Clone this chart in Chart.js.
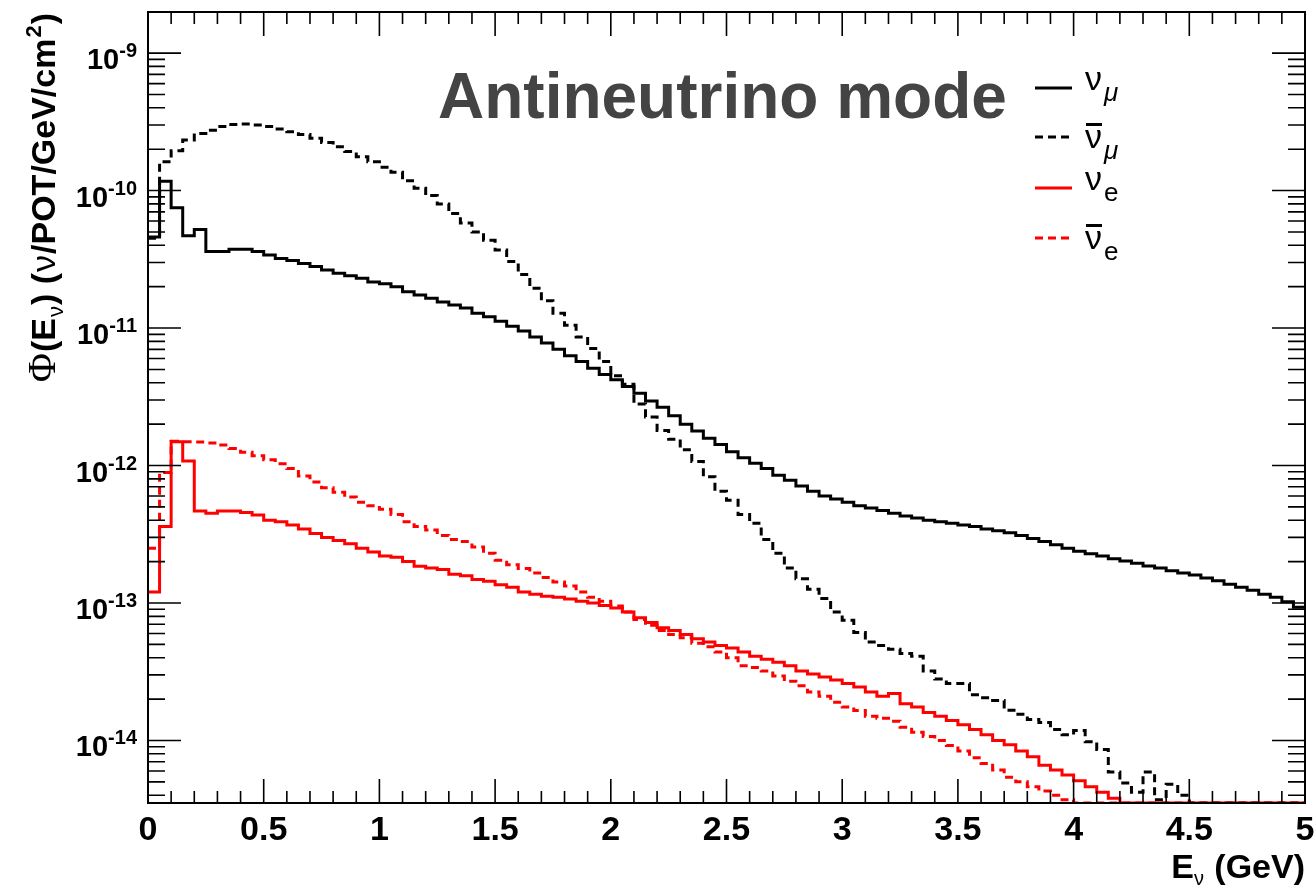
<!DOCTYPE html>
<html>
<head>
<meta charset="utf-8">
<script src="https://cdn.jsdelivr.net/npm/chart.js@4.4.1/dist/chart.umd.min.js"></script>
<style>
  html, body { margin: 0; padding: 0; background: #fff; }
  #wrap { width: 1314px; height: 886px; position: relative; }
</style>
</head>
<body>
<div id="wrap"><canvas id="flux"></canvas></div>
<script>
//.. histogram binning: 100 bins of 0.05 GeV between 0 and 5 GeV
const E_LOW = 0;
const E_HIGH = 5;
const BIN_WIDTH = 0.05;

//.. flux per bin in nu/POT/GeV/cm2 (0 = empty bin)
const numu = [
  4.6e-11, 1.17e-10, 7.5e-11, 4.7e-11, 5.2e-11, 3.6e-11, 3.6e-11, 3.75e-11, 3.75e-11, 3.6e-11,
  3.4e-11, 3.2e-11, 3.1e-11, 2.95e-11, 2.8e-11, 2.64e-11, 2.5e-11, 2.4e-11, 2.3e-11, 2.16e-11,
  2.1e-11, 2.0e-11, 1.84e-11, 1.74e-11, 1.65e-11, 1.55e-11, 1.47e-11, 1.4e-11, 1.28e-11, 1.21e-11,
  1.12e-11, 1.03e-11, 9.5e-12, 8.6e-12, 7.8e-12, 7.0e-12, 6.3e-12, 5.7e-12, 5.1e-12, 4.6e-12,
  4.2e-12, 3.75e-12, 3.35e-12, 2.95e-12, 2.65e-12, 2.3e-12, 2.0e-12, 1.78e-12, 1.58e-12, 1.42e-12,
  1.26e-12, 1.14e-12, 1.04e-12, 9.5e-13, 8.5e-13, 7.8e-13, 7.1e-13, 6.5e-13, 6.0e-13, 5.7e-13,
  5.4e-13, 5.1e-13, 4.9e-13, 4.7e-13, 4.5e-13, 4.3e-13, 4.15e-13, 4.0e-13, 3.9e-13, 3.8e-13,
  3.7e-13, 3.6e-13, 3.45e-13, 3.35e-13, 3.25e-13, 3.1e-13, 2.95e-13, 2.8e-13, 2.65e-13, 2.5e-13,
  2.38e-13, 2.28e-13, 2.2e-13, 2.1e-13, 2.02e-13, 1.95e-13, 1.86e-13, 1.8e-13, 1.72e-13, 1.65e-13,
  1.6e-13, 1.52e-13, 1.45e-13, 1.37e-13, 1.3e-13, 1.24e-13, 1.16e-13, 1.1e-13, 1.02e-13, 9.3e-14
];
const numubar = [
  4.5e-11, 1.62e-10, 1.95e-10, 2.33e-10, 2.6e-10, 2.75e-10, 2.92e-10, 3.02e-10, 3.05e-10, 3.0e-10,
  2.92e-10, 2.8e-10, 2.68e-10, 2.56e-10, 2.4e-10, 2.24e-10, 2.08e-10, 1.92e-10, 1.76e-10, 1.62e-10,
  1.48e-10, 1.36e-10, 1.18e-10, 1.04e-10, 9.2e-11, 8.0e-11, 6.8e-11, 5.8e-11, 5.0e-11, 4.35e-11,
  3.7e-11, 3.05e-11, 2.45e-11, 1.95e-11, 1.58e-11, 1.28e-11, 1.05e-11, 8.6e-12, 7.1e-12, 5.7e-12,
  4.5e-12, 3.9e-12, 2.8e-12, 2.25e-12, 1.8e-12, 1.55e-12, 1.3e-12, 1.07e-12, 8.3e-13, 6.5e-13,
  5.6e-13, 4.4e-13, 3.8e-13, 2.9e-13, 2.3e-13, 1.8e-13, 1.5e-13, 1.26e-13, 1.08e-13, 8.6e-14,
  7.5e-14, 6.1e-14, 5.2e-14, 4.9e-14, 4.6e-14, 4.3e-14, 4.1e-14, 3.2e-14, 2.8e-14, 2.6e-14,
  2.6e-14, 2.15e-14, 2.05e-14, 1.95e-14, 1.66e-14, 1.55e-14, 1.42e-14, 1.35e-14, 1.2e-14, 1.1e-14,
  1.18e-14, 9.8e-15, 8.6e-15, 5.9e-15, 4.9e-15, 4.2e-15, 5.9e-15, 3.7e-15, 4.8e-15, 4.0e-15,
  0, 0, 0, 0, 0, 0, 0, 0, 0, 0
];
const nue = [
  1.2e-13, 3.6e-13, 1.49e-12, 1.08e-12, 4.67e-13, 4.5e-13, 4.67e-13, 4.67e-13, 4.55e-13, 4.37e-13,
  4.0e-13, 3.9e-13, 3.7e-13, 3.45e-13, 3.2e-13, 3.0e-13, 2.85e-13, 2.7e-13, 2.5e-13, 2.35e-13,
  2.2e-13, 2.15e-13, 2.0e-13, 1.85e-13, 1.8e-13, 1.75e-13, 1.62e-13, 1.58e-13, 1.48e-13, 1.44e-13,
  1.36e-13, 1.3e-13, 1.2e-13, 1.16e-13, 1.12e-13, 1.1e-13, 1.07e-13, 1.03e-13, 1.0e-13, 9.6e-14,
  9.2e-14, 8.6e-14, 7.8e-14, 7.2e-14, 6.6e-14, 6.3e-14, 5.9e-14, 5.5e-14, 5.2e-14, 4.9e-14,
  4.7e-14, 4.4e-14, 4.1e-14, 3.9e-14, 3.7e-14, 3.5e-14, 3.2e-14, 3.05e-14, 2.9e-14, 2.75e-14,
  2.6e-14, 2.45e-14, 2.25e-14, 2.1e-14, 2.2e-14, 1.85e-14, 1.75e-14, 1.6e-14, 1.5e-14, 1.4e-14,
  1.3e-14, 1.2e-14, 1.1e-14, 1.0e-14, 9.3e-15, 8.4e-15, 7.6e-15, 6.6e-15, 6.1e-15, 5.6e-15,
  5.1e-15, 4.6e-15, 4.2e-15, 3.8e-15, 0, 0, 0, 0, 0, 0,
  0, 0, 0, 0, 0, 0, 0, 0, 0, 0
];
const nuebar = [
  2.5e-13, 8.9e-13, 1.5e-12, 1.49e-12, 1.48e-12, 1.46e-12, 1.41e-12, 1.33e-12, 1.25e-12, 1.18e-12,
  1.1e-12, 1.03e-12, 9.5e-13, 8.4e-13, 7.6e-13, 6.9e-13, 6.4e-13, 5.9e-13, 5.4e-13, 5.1e-13,
  4.8e-13, 4.4e-13, 3.9e-13, 3.6e-13, 3.4e-13, 3.1e-13, 2.9e-13, 2.8e-13, 2.55e-13, 2.3e-13,
  2.05e-13, 1.9e-13, 1.78e-13, 1.65e-13, 1.53e-13, 1.42e-13, 1.33e-13, 1.2e-13, 1.1e-13, 1.03e-13,
  9.5e-14, 8.6e-14, 7.6e-14, 6.9e-14, 6.3e-14, 5.9e-14, 5.6e-14, 5.1e-14, 4.8e-14, 4.4e-14,
  4.0e-14, 3.5e-14, 3.4e-14, 3.2e-14, 2.95e-14, 2.7e-14, 2.5e-14, 2.25e-14, 2.1e-14, 1.9e-14,
  1.75e-14, 1.65e-14, 1.5e-14, 1.45e-14, 1.38e-14, 1.25e-14, 1.15e-14, 1.07e-14, 1.0e-14, 9.2e-15,
  8.4e-15, 7.5e-15, 6.8e-15, 6.1e-15, 5.4e-15, 5.0e-15, 4.6e-15, 4.3e-15, 4.0e-15, 3.7e-15,
  0, 0, 0, 0, 0, 0, 0, 0, 0, 0,
  0, 0, 0, 0, 0, 0, 0, 0, 0, 0
];

//.. axis ranges and tick labels
const Y_MIN = 3.51e-15;
const Y_MAX = 1.99e-9;
const xTickValues = [0, 0.5, 1, 1.5, 2, 2.5, 3, 3.5, 4, 4.5, 5];
const xTickLabels = ['0', '0.5', '1', '1.5', '2', '2.5', '3', '3.5', '4', '4.5', '5'];
const yDecades = [-9, -10, -11, -12, -13, -14];

//.. legend entries
const legendBase = ['\u03bd', '\u03bd', '\u03bd', '\u03bd'];
const legendSub = ['\u03bc', '\u03bc', 'e', 'e'];
const legendBar = [false, true, false, true];
const legendColor = ['#000000', '#000000', '#ff0000', '#ff0000'];
const legendDashed = [false, true, false, true];

const TITLE = 'Antineutrino mode';
const FONT = '"Liberation Sans", Arial, Helvetica, sans-serif';


//.. Function to turn bin contents into step points (empty bins sit on the axis floor)
function histPoints(values) {
    const pts = values.map(function (v, i) {
        return {x: E_LOW + i * BIN_WIDTH, y: v > 0 ? v : Y_MIN};
    });
    pts.push({x: E_HIGH, y: pts[pts.length - 1].y});
    return pts;
}

function histDataset(label, values, color, dashed, order) {
    return {
        label: label,
        data: histPoints(values),
        borderColor: color,
        borderWidth: 3,
        borderDash: dashed ? [8, 5] : [],
        pointRadius: 0,
        stepped: true,
        fill: false,
        order: order
    };
}


//.. Plugin drawing the ROOT style frame, ticks, labels and legend
const rootFrame = {
    id: 'rootFrame',
    afterDatasetsDraw(chart) {
        const ctx = chart.ctx;
        const a = chart.chartArea;
        const xs = chart.scales.x;
        const ys = chart.scales.y;
        ctx.save();

        //.. ticks
        ctx.strokeStyle = '#000';
        ctx.lineWidth = 1.6;
        ctx.beginPath();
        for (let k = 0; k <= 50; k++) {
            const px = xs.getPixelForValue(k / 10);
            const len = (k % 5 === 0) ? 24 : 12;
            ctx.moveTo(px, a.bottom);
            ctx.lineTo(px, a.bottom - len);
            ctx.moveTo(px, a.top);
            ctx.lineTo(px, a.top + len);
        }
        for (let d = -15; d <= -9; d++) {
            for (let m = 1; m <= 9; m++) {
                const v = m * Math.pow(10, d);
                if (v < ys.min || v > ys.max) continue;
                const py = ys.getPixelForValue(v);
                const len = m === 1 ? 33 : 17;
                ctx.moveTo(a.left, py);
                ctx.lineTo(a.left + len, py);
                ctx.moveTo(a.right, py);
                ctx.lineTo(a.right - len, py);
            }
        }
        ctx.stroke();

        //.. frame
        ctx.lineWidth = 2;
        ctx.strokeRect(a.left, a.top, a.right - a.left, a.bottom - a.top);

        //.. x tick labels
        ctx.fillStyle = '#000';
        ctx.textBaseline = 'alphabetic';
        ctx.textAlign = 'center';
        ctx.font = 'bold 34px ' + FONT;
        xTickValues.forEach(function (v, i) {
            ctx.fillText(xTickLabels[i], xs.getPixelForValue(v), 840);
        });

        //.. y tick labels 10^n
        ctx.textAlign = 'right';
        yDecades.forEach(function (d) {
            const py = ys.getPixelForValue(Math.pow(10, d));
            ctx.font = 'bold 20px ' + FONT;
            const sup = String(d);
            const w = ctx.measureText(sup).width;
            ctx.fillText(sup, 137, py + 4);
            ctx.font = 'bold 29px ' + FONT;
            ctx.fillText('10', 137 - w, py + 16);
        });

        //.. x axis title
        ctx.textAlign = 'left';
        ctx.font = 'bold 34px ' + FONT;
        const rest = ' (GeV)';
        const wRest = ctx.measureText(rest).width;
        const wE = ctx.measureText('E').width;
        ctx.font = '20px ' + FONT;
        const wNu = ctx.measureText('\u03bd').width;
        let xx = a.right - wRest - wNu - wE - 1;
        ctx.font = 'bold 34px ' + FONT;
        ctx.fillText('E', xx, 878);
        xx += wE;
        ctx.font = '20px ' + FONT;
        ctx.fillText('\u03bd', xx, 885);
        xx += wNu + 1;
        ctx.font = 'bold 34px ' + FONT;
        ctx.fillText(rest, xx, 878);

        //.. y axis title (rotated, ends at the top of the axis)
        const parts = [
            {t: '\u03a6', f: '40px "Liberation Serif", serif', dy: 0},
            {t: '(E', f: 'bold 34px ' + FONT, dy: 0},
            {t: '\u03bd', f: '22px ' + FONT, dy: 8},
            {t: ') (', f: 'bold 34px ' + FONT, dy: 0},
            {t: '\u03bd', f: '34px ' + FONT, dy: 0},
            {t: '/POT/GeV/cm', f: 'bold 34px ' + FONT, dy: 0},
            {t: '2', f: 'bold 22px ' + FONT, dy: -14},
            {t: ')', f: 'bold 34px ' + FONT, dy: 0}
        ];
        let total = 0;
        parts.forEach(function (p) {
            ctx.font = p.f;
            p.w = ctx.measureText(p.t).width + 1;
            total += p.w;
        });
        ctx.save();
        ctx.translate(55, a.top + total);
        ctx.rotate(-Math.PI / 2);
        let tx = 0;
        parts.forEach(function (p) {
            ctx.font = p.f;
            ctx.fillText(p.t, tx, p.dy);
            tx += p.w;
        });
        ctx.restore();

        //.. title
        ctx.fillStyle = '#444444';
        ctx.font = 'bold 64px ' + FONT;
        ctx.fillText(TITLE, 438, 118);

        //.. legend
        const rowY = [88, 137, 188, 238];
        legendBase.forEach(function (b, i) {
            const y = rowY[i];
            ctx.strokeStyle = legendColor[i];
            ctx.lineWidth = 3;
            ctx.setLineDash(legendDashed[i] ? [8, 5] : []);
            ctx.beginPath();
            ctx.moveTo(1035, y);
            ctx.lineTo(1072, y);
            ctx.stroke();
            ctx.setLineDash([]);

            const base = y + (legendBar[i] ? 11 : 2);
            ctx.fillStyle = '#000';
            ctx.font = '34px ' + FONT;
            ctx.fillText(b, 1085, base);
            const wb = ctx.measureText(b).width;
            if (legendBar[i]) {
                ctx.fillRect(1086, base - 25, wb - 1, 3);
            }
            ctx.font = (legendSub[i] === '\u03bc' ? 'italic ' : '') + '26px ' + FONT;
            ctx.fillText(legendSub[i], 1085 + wb + 2, base + 11);
        });

        ctx.restore();
    }
};


const ctx = document.getElementById('flux').getContext('2d');
const fluxChart = new Chart(ctx, {
    type: 'line',
    data: {
        datasets: [
            histDataset('numu', numu, '#000000', false, 1),
            histDataset('numubar', numubar, '#000000', true, 2),
            histDataset('nue', nue, '#ff0000', false, 0),
            histDataset('nuebar', nuebar, '#ff0000', true, 3)
        ]
    },
    options: {
        responsive: true,
        maintainAspectRatio: false,
        animation: false,
        layout: {
            padding: {left: 148, right: 9, top: 12, bottom: 83}
        },
        scales: {
            x: {type: 'linear', min: E_LOW, max: E_HIGH, display: false},
            y: {type: 'logarithmic', min: Y_MIN, max: Y_MAX, display: false}
        },
        plugins: {
            legend: {display: false},
            tooltip: {enabled: false}
        }
    },
    plugins: [rootFrame]
});
</script>
</body>
</html>
